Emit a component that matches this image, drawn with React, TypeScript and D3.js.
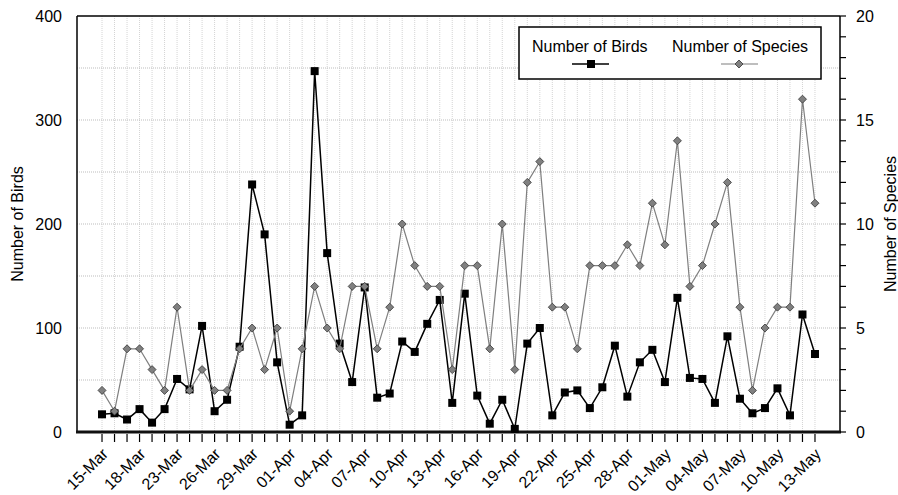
import React from "react";
import * as d3 from "d3";

const dates = [
  "15-Mar", "16-Mar", "17-Mar", "18-Mar", "19-Mar", "21-Mar", "23-Mar", "24-Mar", "25-Mar", "26-Mar",
  "27-Mar", "28-Mar", "29-Mar", "30-Mar", "31-Mar", "01-Apr", "02-Apr", "03-Apr", "04-Apr", "05-Apr",
  "06-Apr", "07-Apr", "08-Apr", "09-Apr", "10-Apr", "11-Apr", "12-Apr", "13-Apr", "14-Apr", "15-Apr",
  "16-Apr", "17-Apr", "18-Apr", "19-Apr", "20-Apr", "21-Apr", "22-Apr", "23-Apr", "24-Apr", "25-Apr",
  "26-Apr", "27-Apr", "28-Apr", "29-Apr", "30-Apr", "01-May", "02-May", "03-May", "04-May", "05-May",
  "06-May", "07-May", "08-May", "09-May", "10-May", "11-May", "12-May", "13-May",
];

const birds = [
  17, 18, 12, 22, 9, 22, 51, 41, 102, 20,
  31, 82, 238, 190, 67, 7, 16, 347, 172, 85,
  48, 139, 33, 37, 87, 77, 104, 127, 28, 133,
  35, 8, 31, 3, 85, 100, 16, 38, 40, 23,
  43, 83, 34, 67, 79, 48, 129, 52, 51, 28,
  92, 32, 18, 23, 42, 16, 113, 75,
];

const species = [
  2, 1, 4, 4, 3, 2, 6, 2, 3, 2,
  2, 4, 5, 3, 5, 1, 4, 7, 5, 4,
  7, 7, 4, 6, 10, 8, 7, 7, 3, 8,
  8, 4, 10, 3, 12, 13, 6, 6, 4, 8,
  8, 8, 9, 8, 11, 9, 14, 7, 8, 10,
  12, 6, 2, 5, 6, 6, 16, 11,
];

const birdTicks = [0, 100, 200, 300, 400];
const birdGrid = [50, 100, 150, 200, 250, 300, 350];
const speciesTicks = [0, 5, 10, 15, 20];

const W = 898;
const H = 495;
const left = 77;
const right = 840;
const top = 16;
const bottom = 432;
const font = "Arial, 'Liberation Sans', sans-serif";

const App = () => {
  const x = d3.scalePoint<string>().domain(dates).range([left, right]).padding(2);
  const yB = d3.scaleLinear().domain([0, 400]).range([bottom, top]);
  const yS = d3.scaleLinear().domain([0, 20]).range([bottom, top]);

  const birdLine = d3.line<number>()
    .x((d, i) => x(dates[i]) as number)
    .y(d => yB(d));
  const speciesLine = d3.line<number>()
    .x((d, i) => x(dates[i]) as number)
    .y(d => yS(d));

  const diamond = "M0,-4L4,0L0,4L-4,0Z";

  return (
    <svg width={W} height={H} style={{position: "absolute", left: 0, top: 0}} fontFamily={font}>
      <rect width={W} height={H} fill="white" />

      {/* grid */}
      {dates.map(d => (
        <line key={"gx" + d} x1={x(d)} x2={x(d)} y1={top} y2={bottom}
              stroke="#d4d4d4" strokeWidth={1} strokeDasharray="1,1" />
      ))}
      {birdGrid.map(v => (
        <line key={"gy" + v} x1={left} x2={right} y1={yB(v)} y2={yB(v)}
              stroke="#bdbdbd" strokeWidth={1} strokeDasharray="1,1" />
      ))}

      {/* frame */}
      <line x1={left} x2={right} y1={top} y2={top} stroke="black" strokeWidth={1.5} />
      <line x1={left} x2={left} y1={top} y2={bottom} stroke="black" strokeWidth={1.5} />
      <line x1={right} x2={right} y1={top} y2={bottom} stroke="black" strokeWidth={1.5} />
      <line x1={left - 1} x2={right + 1} y1={bottom} y2={bottom} stroke="#111" strokeWidth={3} />

      {/* x ticks and labels */}
      {dates.map(d => (
        <line key={"tx" + d} x1={x(d)} x2={x(d)} y1={bottom + 2} y2={bottom + 10}
              stroke="black" strokeWidth={1.2} />
      ))}
      {dates.filter((d, i) => i % 3 === 0).map(d => (
        <text key={"lx" + d} fontSize={16} textAnchor="end"
              transform={`translate(${(x(d) as number) + 7},${bottom + 23}) rotate(-45)`}>
          {d}
        </text>
      ))}

      {/* left axis labels */}
      {birdTicks.map(v => (
        <text key={"ly" + v} x={62} y={yB(v)} dy="0.35em" fontSize={16} textAnchor="end">{v}</text>
      ))}
      <text fontSize={16} textAnchor="middle" transform={`translate(23,${(top + bottom) / 2}) rotate(-90)`}>
        Number of Birds
      </text>

      {/* right axis */}
      {d3.range(0, 21).map(v => (
        <line key={"ry" + v} x1={right} x2={right + 6} y1={yS(v)} y2={yS(v)} stroke="black" strokeWidth={1.2} />
      ))}
      {speciesTicks.map(v => (
        <text key={"ls" + v} x={856} y={yS(v)} dy="0.35em" fontSize={16}>{v}</text>
      ))}
      <text fontSize={16} textAnchor="middle" transform={`translate(896,${(top + bottom) / 2}) rotate(-90)`}>
        Number of Species
      </text>

      {/* birds series */}
      <path d={birdLine(birds) as string} fill="none" stroke="black" strokeWidth={1.5} />
      {birds.map((v, i) => (
        <rect key={"b" + i} x={(x(dates[i]) as number) - 4} y={yB(v) - 4} width={8} height={8} fill="black" />
      ))}

      {/* species series */}
      <path d={speciesLine(species) as string} fill="none" stroke="#7f7f7f" strokeWidth={1.2} />
      {species.map((v, i) => (
        <path key={"s" + i} d={diamond} transform={`translate(${x(dates[i])},${yS(v)})`}
              fill="#808080" stroke="#333" strokeWidth={0.8} />
      ))}

      {/* legend */}
      <g>
        <rect x={519} y={27} width={302} height={52} fill="white" stroke="black" strokeWidth={1.5} />
        <text x={532} y={52} fontSize={16}>Number of Birds</text>
        <line x1={572} x2={609} y1={64} y2={64} stroke="black" strokeWidth={1.5} />
        <rect x={587} y={60} width={8} height={8} fill="black" />
        <text x={672} y={52} fontSize={16}>Number of Species</text>
        <line x1={721} x2={758} y1={64} y2={64} stroke="#7f7f7f" strokeWidth={1.2} />
        <path d={diamond} transform="translate(739,64)" fill="#808080" stroke="#333" strokeWidth={0.8} />
      </g>
    </svg>
  );
};

export default App;
